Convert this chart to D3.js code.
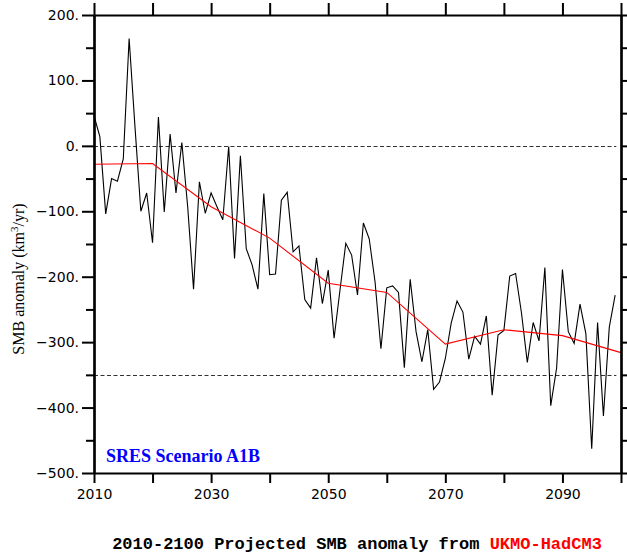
<!DOCTYPE html>
<html>
<head>
<meta charset="utf-8">
<script src="https://cdn.jsdelivr.net/npm/d3@7"></script>
<style>
  html, body { margin: 0; padding: 0; background: #fff; }
  svg { display: block; }
</style>
</head>
<body>
<div id="chart"></div>
<script>
// ---- data ----
const years = d3.range(2010, 2100);
const smbAnomaly = [46, 14, -104, -50, -54, -20, 164, 29, -100, -72,
  -148, 44, -101, 18, -72, 5, -93, -219, -55, -103,
  -72, -93, -113, -1, -172, -15, -157, -182, -219, -73,
  -197, -196, -83, -71, -162, -153, -235, -248, -171, -241,
  -190, -294, -221, -149, -167, -228, -118, -142, -208, -310,
  -217, -214, -224, -339, -204, -284, -330, -281, -372, -361,
  -325, -271, -237, -254, -326, -291, -303, -260, -381, -289,
  -282, -199, -195, -255, -331, -270, -298, -186, -397, -340,
  -189, -284, -302, -242, -287, -463, -270, -413, -277, -228];
const trendYears = [2010, 2020, 2030, 2040, 2050, 2060, 2070, 2080, 2090, 2100];
const trendValues = [-28, -27, -93, -141, -210, -224, -303, -281, -290, -316];
const refLines = [0, -350];
const yMajorTicks = [200, 100, 0, -100, -200, -300, -400, -500];
const yMinorTicks = [150, 50, -50, -150, -250, -350, -450];
const xTicks = [2010, 2020, 2030, 2040, 2050, 2060, 2070, 2080, 2090, 2100];
const xTickLabels = [2010, 2030, 2050, 2070, 2090];
const yTitle = "SMB anomaly (km";
const titlePrefix = "2010-2100 Projected SMB anomaly from ";
const titleModel = "UKMO-HadCM3";
const scenarioLabel = "SRES Scenario A1B";

// ---- layout ----
const W = 627, H = 553;
const L = 94, R = 621, T = 15, B = 473;

const svg = d3.select("#chart").append("svg").attr("width", W).attr("height", H);

const x = d3.scaleLinear().domain([2010, 2100]).range([L, R]);
const y = d3.scaleLinear().domain([-500, 200]).range([B, T]);

// reference dashed lines
svg.selectAll("line.ref").data(refLines).enter().append("line")
  .attr("class", "ref")
  .attr("x1", x(2010)).attr("x2", x(2099.2))
  .attr("y1", d => Math.round(y(d)) + 0.5).attr("y2", d => Math.round(y(d)) + 0.5)
  .attr("stroke", "#333").attr("stroke-width", 1).attr("stroke-dasharray", "4,2.5");

// data line
const lineGen = d3.line().x(d => x(d[0])).y(d => y(d[1]));
svg.append("path")
  .datum(years.map((yr, i) => [yr, smbAnomaly[i]]))
  .attr("d", lineGen)
  .attr("fill", "none").attr("stroke", "#000").attr("stroke-width", 1.1)
  .attr("stroke-linejoin", "miter");

// trend line
svg.append("path")
  .datum(trendYears.map((yr, i) => [yr, trendValues[i]]))
  .attr("d", lineGen)
  .attr("fill", "none").attr("stroke", "#ff0000").attr("stroke-width", 1.1);

// axes
function styleAxis(g) {
  g.selectAll("path.domain").attr("stroke", "#000").attr("stroke-width", 2.2);
  g.selectAll(".tick line").attr("stroke", "#000").attr("stroke-width", 2);
  g.selectAll(".tick text").attr("font-family", "DejaVu Sans").attr("font-size", 14).attr("fill", "#000");
}
const fmtY = d => (d < 0 ? "\u2212" + Math.abs(d) : d) + ".";

// left major
svg.append("g").attr("transform", `translate(${L},0)`)
  .call(d3.axisLeft(y).tickValues(yMajorTicks).tickSize(12).tickSizeOuter(0).tickPadding(3).tickFormat(fmtY))
  .call(styleAxis);
// left minor
svg.append("g").attr("transform", `translate(${L},0)`)
  .call(d3.axisLeft(y).tickValues(yMinorTicks).tickSize(8).tickSizeOuter(0).tickFormat(""))
  .call(styleAxis);
// right
svg.append("g").attr("transform", `translate(${R},0)`)
  .call(d3.axisRight(y).tickValues(yMajorTicks).tickSize(12).tickSizeOuter(0).tickFormat(""))
  .call(styleAxis);
svg.append("g").attr("transform", `translate(${R},0)`)
  .call(d3.axisRight(y).tickValues(yMinorTicks).tickSize(8).tickSizeOuter(0).tickFormat(""))
  .call(styleAxis);
// bottom
svg.append("g").attr("transform", `translate(0,${B})`)
  .call(d3.axisBottom(x).tickValues(xTicks).tickSize(10).tickSizeOuter(0).tickPadding(6)
    .tickFormat(d => xTickLabels.includes(d) ? String(d) : ""))
  .call(styleAxis);
// top
svg.append("g").attr("transform", `translate(0,${T})`)
  .call(d3.axisTop(x).tickValues(xTicks).tickSize(12).tickSizeOuter(0).tickFormat(""))
  .call(styleAxis);

// y-axis title with superscript
const yt = svg.append("text")
  .attr("transform", `translate(24,279) rotate(-90)`)
  .attr("text-anchor", "middle")
  .attr("font-family", "Liberation Serif").attr("font-size", 16).attr("fill", "#000");
yt.append("tspan").text(yTitle);
yt.append("tspan").attr("font-size", 11).attr("dy", -6).text("3");
yt.append("tspan").attr("dy", 6).text("/yr)");

// scenario label
svg.append("text")
  .attr("x", 106).attr("y", 462)
  .attr("font-family", "Liberation Serif").attr("font-weight", "bold").attr("font-size", 18)
  .attr("fill", "#0000ff")
  .text(scenarioLabel);

// bottom title
const bt = svg.append("text")
  .attr("x", 357).attr("y", 549)
  .attr("text-anchor", "middle")
  .attr("font-family", "Liberation Mono").attr("font-weight", "bold").attr("font-size", 17)
  .attr("fill", "#000");
bt.append("tspan").text(titlePrefix);
bt.append("tspan").attr("fill", "#ff0000").text(titleModel);
</script>
</body>
</html>
